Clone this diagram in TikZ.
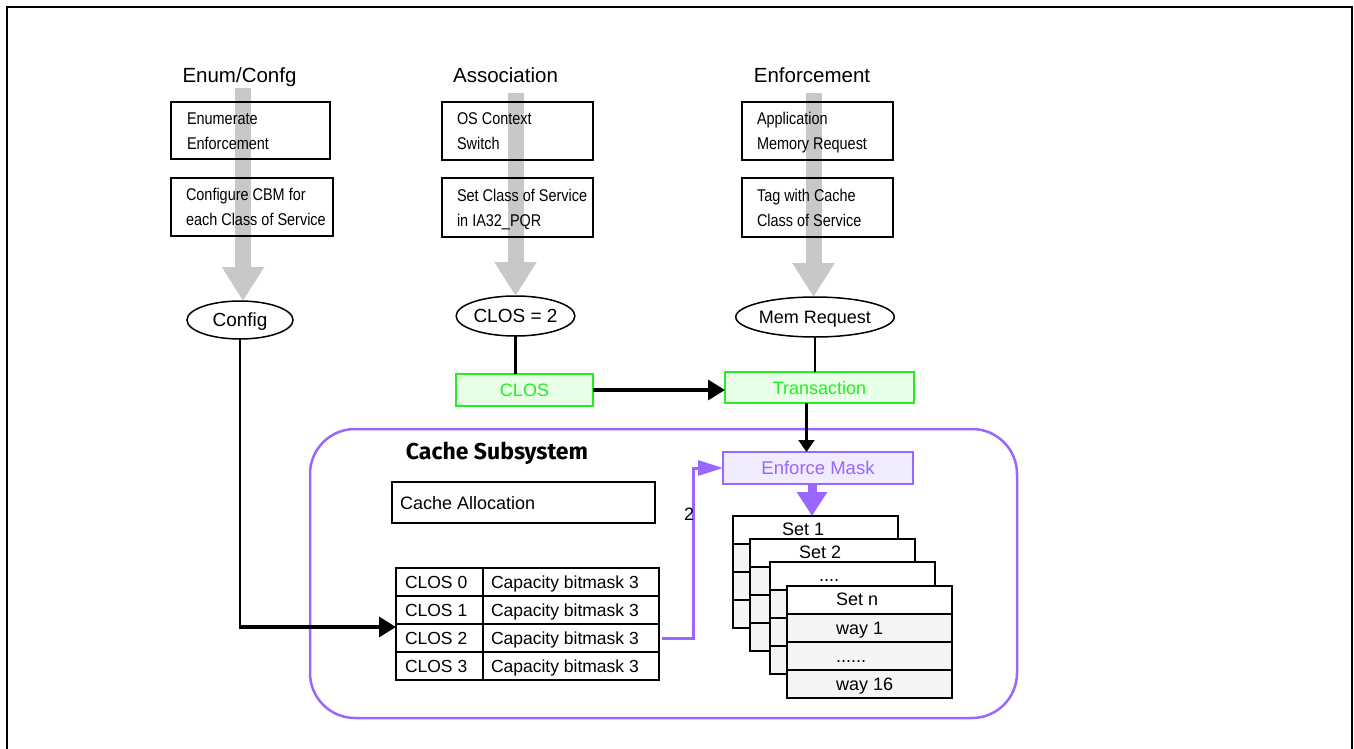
\documentclass[tikz,border=0pt]{standalone}
\usepackage{fontspec}
\setmainfont{Liberation Sans}
\newfontfamily\narrowfont[FakeStretch=0.85]{Liberation Sans}
\newfontfamily\subfont{Fira Sans}
\usetikzlibrary{shapes.geometric,arrows.meta}
\definecolor{grayarrow}{HTML}{C8C8C8}
\definecolor{clgreen}{HTML}{22EE22}
\definecolor{clgreenfill}{HTML}{E8FFE8}
\definecolor{purp}{HTML}{9966FF}
\definecolor{purpfill}{HTML}{F1EBFF}
\definecolor{rowgray}{HTML}{F4F4F4}
\newcommand\myfourdots{....}
\newcommand\mysixdots{......}
\begin{document}
\begin{tikzpicture}[x=1pt,y=-1pt,
  every node/.style={inner sep=0pt, outer sep=0pt},
  coltitle/.style={font=\fontsize{20.5}{24}\selectfont, text height=14.5pt, text depth=0pt},
  stepbox/.style={draw, line width=2pt, anchor=north west},
  steptext/.style={font=\narrowfont\fontsize{17}{25}\selectfont, align=left, anchor=west, text height=12.3pt, text depth=0pt, yshift=-12.5pt},
  grayarr/.style={color=grayarrow, line width=16pt, -{Triangle[length=34pt,width=40pt]}},
  oval/.style={draw, ellipse, line width=1.5pt, font=\fontsize{19}{22}\selectfont, text height=13.5pt, text depth=0pt},
  greenbox/.style={draw=clgreen, fill=clgreenfill, line width=2pt, text=clgreen, font=\fontsize{18}{22}\selectfont, text height=13pt, text depth=0pt, anchor=north west},
  purpbox/.style={draw=purp, fill=purpfill, line width=2pt, text=purp, font=\fontsize{18.5}{22}\selectfont, text height=13.3pt, text depth=0pt, anchor=north west},
  blkline/.style={line width=2.5pt},
  blkarrow/.style={line width=3.2pt, -{Triangle[length=17pt,width=20pt]}},
  blkarrowsmall/.style={line width=2.2pt, -{Triangle[length=12pt,width=16pt]}},
  purpline/.style={draw=purp, line width=3pt, -{Triangle[length=25pt,width=15pt]}, color=purp},
  purpthick/.style={color=purp, line width=9pt, -{Triangle[length=24pt,width=29pt]}},
  cell/.style={draw, line width=2pt, minimum height=28pt, anchor=north west},
  celltext/.style={font=\fontsize{17.5}{20}\selectfont, text height=12.6pt, text depth=0pt, anchor=west},
  hdr/.style={draw, fill=white, line width=2pt, minimum width=165pt, minimum height=28pt, anchor=north west},
  grayrow/.style={draw, fill=rowgray, line width=2pt, minimum width=165pt, minimum height=28pt, anchor=north west},
  settext/.style={font=\fontsize{18}{20}\selectfont, text height=13pt, text depth=0pt, anchor=west},
  plain/.style={font=\fontsize{18}{20}\selectfont, text height=13pt, text depth=0pt}
]
\useasboundingbox (0,0) rectangle (1354,749);
% outer frame
\draw[line width=2pt] (7,749) -- (7,7) -- (1352,7) -- (1352,749);

% column titles
\node[coltitle] (t1) at (239.5,75.5) {Enum/Confg};
\node[coltitle] (t2) at (505.5,75.5) {Association};
\node[coltitle] (t3) at (812,75.5) {Enforcement};

% ellipses
\node[oval, minimum width=106pt, minimum height=38pt] (cfg) at (240,320) {Config};
\node[oval, minimum width=109pt, minimum height=40pt] (clos2) at (515.5,316) {CLOS = 2};
\node[oval, minimum width=144pt, minimum height=40pt, font=\fontsize{18}{22}\selectfont] (memreq) at (815,317) {Mem Request};

% gray arrows (behind boxes)
\coordinate (g1) at (243,88);
\coordinate (g2) at (515.5,93);
\coordinate (g3) at (813.5,93);
\draw[grayarr] (g1) -- (g1 |- cfg.north);
\draw[grayarr] (g2) -- (g2 |- clos2.north);
\draw[grayarr] (g3) -- (g3 |- memreq.north);

% step boxes
\node[stepbox, minimum width=159pt, minimum height=57pt] (b11) at (171,102) {};
\node[stepbox, minimum width=162pt, minimum height=58pt] (b12) at (171,178) {};
\node[stepbox, minimum width=151pt, minimum height=58pt] (b21) at (442,102) {};
\node[stepbox, minimum width=151pt, minimum height=59pt] (b22) at (442,178) {};
\node[stepbox, minimum width=151pt, minimum height=58pt] (b31) at (742,102) {};
\node[stepbox, minimum width=151pt, minimum height=59pt] (b32) at (742,178) {};
\node[steptext] (bt11) at ([xshift=16pt]b11.west) {Enumerate\\Enforcement};
\node[steptext] (bt12) at ([xshift=15pt]b12.west) {Configure CBM for\\each Class of Service};
\node[steptext] (bt21) at ([xshift=15pt]b21.west) {OS Context\\Switch};
\node[steptext] (bt22) at ([xshift=15pt]b22.west) {Set Class of Service\\in IA32\_PQR};
\node[steptext] (bt31) at ([xshift=15pt]b31.west) {Application\\Memory Request};
\node[steptext] (bt32) at ([xshift=15pt]b32.west) {Tag with Cache\\Class of Service};

% green boxes
\node[greenbox, minimum width=137pt, minimum height=32pt] (clos) at (456,374) {CLOS};
\node[greenbox, minimum width=189pt, minimum height=31pt] (trans) at (725,372) {Transaction};

\draw[blkline] (clos2.south) -- (clos2.south |- clos.north);
\draw[blkline] (memreq.south) -- (memreq.south |- trans.north);
\draw[blkarrow] (clos.east) -- (clos.east -| trans.west);

% cache subsystem
\node[draw=purp, line width=2.5pt, rounded corners=45pt, minimum width=707pt, minimum height=289pt, anchor=north west] (cache) at (310,429) {};
\node[font=\subfont\bfseries\fontsize{23}{26}\selectfont, text height=17pt, text depth=0pt] (cachetitle) at (497,451) {Cache Subsystem};

\node[stepbox, minimum width=263pt, minimum height=41pt] (alloc) at (392,482) {};
\node[plain, anchor=west] (alloct) at ([xshift=8pt]alloc.west) {Cache Allocation};

% CLOS table
\foreach \r/\yy in {0/568,1/596,2/624,3/652} {
  \node[cell, minimum width=87pt] (cl\r) at (396,\yy) {};
  \node[cell, minimum width=176pt] (cb\r) at (483,\yy) {};
  \node[celltext] (clt\r) at ([xshift=9pt]cl\r.west) {CLOS \r};
  \node[celltext] (cbt\r) at ([xshift=8pt]cb\r.west) {Capacity bitmask 3};
}
\coordinate (tin) at (396,627);
\coordinate (bend) at (cfg.south |- tin);
\draw[line width=2.2pt] (cfg.south) -- ([yshift=1.6pt]bend);
\draw[blkarrow] ([xshift=-1.1pt]bend) -- (tin);

% enforce mask
\node[purpbox, minimum width=190pt, minimum height=32pt] (em) at (723,452) {Enforce Mask};
\draw[blkarrowsmall] ([xshift=-13pt]trans.south) -- ([xshift=-13pt]trans.south |- em.north);
\draw[purpline] ([xshift=3pt]cb2.east) -- ++(31,0) |- (em.west);
\node[plain] (lbl2) at (689,514) {2};

% sets stack
\foreach \n/\x/\y/\t in {sa/733/516/Set 1, sb/750/539/Set 2, sc/770/562/\myfourdots, sd/787/586/Set n} {
  \node[hdr] (\n h) at (\x,\y) {};
  \node[grayrow] (\n r1) at (\x,\y+28) {};
  \node[grayrow] (\n r2) at (\x,\y+56) {};
  \node[grayrow] (\n r3) at (\x,\y+84) {};
  \node[settext] (\n t) at ([xshift=49pt,yshift=1.5pt]\n h.west) {\t};
}
\node[settext] (w1) at ([xshift=49pt]sdr1.west) {way 1};
\node[settext] (w2) at ([xshift=49pt]sdr2.west) {\mysixdots};
\node[settext] (w3) at ([xshift=49pt]sdr3.west) {way 16};

\draw[purpthick] ([xshift=-6pt]em.south) -- ([xshift=-6pt]em.south |- sah.north);
\end{tikzpicture}
\end{document}
